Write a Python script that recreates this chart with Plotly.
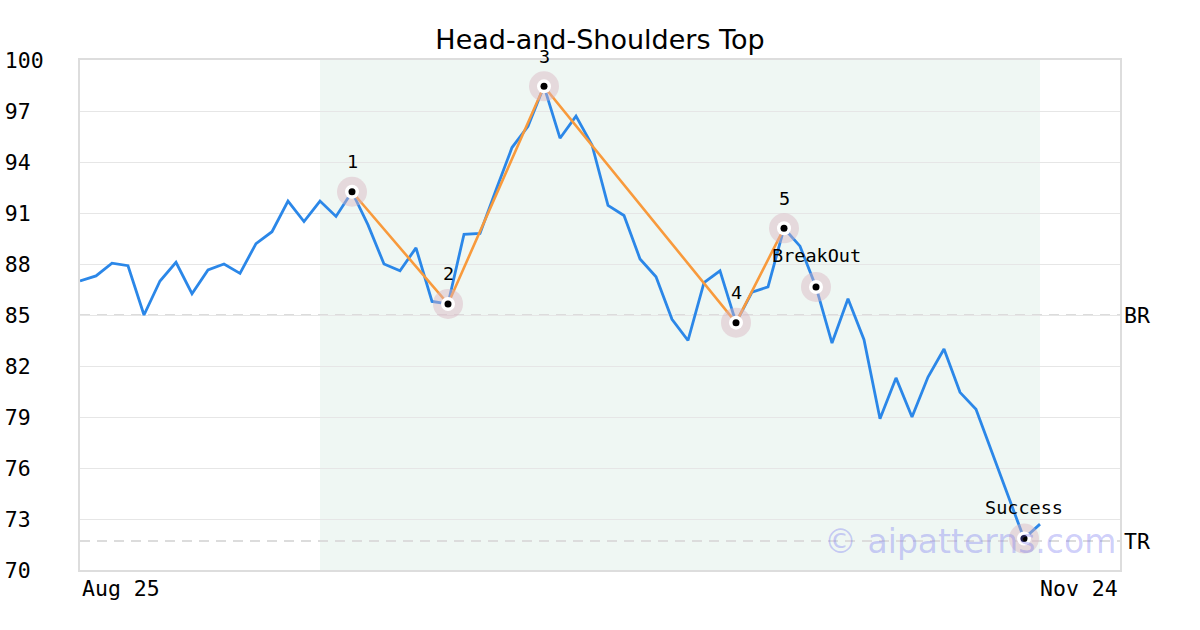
import plotly.graph_objects as go

# ---- data ----
prices = [87.0, 87.3, 88.05, 87.9, 85.0, 87.0, 88.1, 86.25, 87.65, 88.0,
          87.45, 89.2, 89.9, 91.7, 90.5, 91.7, 90.8, 92.25, 90.3, 88.0,
          87.6, 88.95, 85.8, 85.65, 89.75, 89.8, 92.35, 94.85, 96.1, 98.45,
          95.4, 96.7, 95.0, 91.45, 90.85, 88.3, 87.25, 84.75, 83.5, 86.9,
          87.6, 84.55, 86.35, 86.65, 90.1, 89.05, 86.65, 83.35, 85.95, 83.55,
          78.9, 81.3, 79.0, 81.35, 83.0, 80.45, 79.45, 76.9, 74.35, 71.85, 72.7]
days = list(range(len(prices)))

pattern_idx = [17, 23, 29, 41, 44]
pattern_labels = ["1", "2", "3", "4", "5"]
event_idx = [46, 59]
event_labels = ["BreakOut", "Success"]

shade_start, shade_end = 15, 60
br_level = 85.0
tr_level = 71.7

x_range = [0, 65]
x_tick_pos = [0, 65]
x_tick_labels = ["Aug 25", "Nov 24"]
y_ticks = [70, 73, 76, 79, 82, 85, 88, 91, 94, 97, 100]

MONO = "DejaVu Sans Mono"
SANS = "DejaVu Sans"

fig = go.Figure()

# price line
fig.add_trace(go.Scatter(x=days, y=prices, mode="lines",
                         line=dict(color="#2b87e8", width=2.8),
                         hoverinfo="skip", showlegend=False))
# pattern line
px_ = [days[i] for i in pattern_idx]
py_ = [prices[i] for i in pattern_idx]
fig.add_trace(go.Scatter(x=px_, y=py_, mode="lines",
                         line=dict(color="#f89a3c", width=2.6),
                         hoverinfo="skip", showlegend=False))

all_idx = pattern_idx + event_idx
mx = [days[i] for i in all_idx]
my = [prices[i] for i in all_idx]
# halo
fig.add_trace(go.Scatter(x=mx, y=my, mode="markers",
                         marker=dict(size=30, color="rgba(218,180,192,0.45)"),
                         hoverinfo="skip", showlegend=False))
fig.add_trace(go.Scatter(x=mx, y=my, mode="markers",
                         marker=dict(size=14, color="white"),
                         hoverinfo="skip", showlegend=False))
fig.add_trace(go.Scatter(x=mx, y=my, mode="markers",
                         marker=dict(size=7, color="black"),
                         hoverinfo="skip", showlegend=False))

# shaded region
fig.add_shape(type="rect", xref="x", yref="paper", x0=shade_start, x1=shade_end,
              y0=0, y1=1, fillcolor="#eff7f3", line=dict(width=0), layer="below")
# BR / TR lines
for lvl in (br_level, tr_level):
    fig.add_shape(type="line", xref="paper", yref="y", x0=0, x1=1, y0=lvl, y1=lvl,
                  line=dict(color="#dcdcdc", width=2, dash="10px,7px"), layer="below")

annotations = []
for i, lab in zip(pattern_idx, pattern_labels):
    annotations.append(dict(x=days[i], y=prices[i], text=lab, showarrow=False,
                            yshift=30, font=dict(family=MONO, size=18.5, color="black")))
for i, lab in zip(event_idx, event_labels):
    annotations.append(dict(x=days[i], y=prices[i], text=lab, showarrow=False,
                            yshift=31, font=dict(family=MONO, size=18.5, color="black")))
for lvl, lab in ((br_level, "BR"), (tr_level, "TR")):
    annotations.append(dict(xref="paper", x=1, y=lvl, text=lab, showarrow=False,
                            xanchor="left", xshift=2,
                            font=dict(family=MONO, size=21.5, color="black")))
for pos, lab, anc in zip(x_tick_pos, x_tick_labels, ["left", "right"]):
    annotations.append(dict(x=pos, yref="paper", y=0, text=lab, showarrow=False,
                            xanchor=anc, yanchor="middle", yshift=-18,
                            font=dict(family=MONO, size=21.5, color="black")))
annotations.append(dict(x=55.6, y=tr_level, text="© aipatterns.com", showarrow=False,
                        xanchor="center", yanchor="middle",
                        font=dict(family=SANS, size=33, color="rgba(105,105,240,0.33)")))

y_ticktext = [str(v) + "\u00a0" * (3 - len(str(v))) for v in y_ticks]

fig.update_layout(
    width=1200, height=630,
    margin=dict(l=80, r=80, t=60, b=60),
    paper_bgcolor="white", plot_bgcolor="white",
    title=dict(text="Head-and-Shoulders Top", x=0.5, xanchor="center",
               y=1 - 40 / 630, yanchor="middle",
               font=dict(family=SANS, size=27, color="black")),
    xaxis=dict(range=x_range, showgrid=False, zeroline=False, showticklabels=False,
               showline=True, mirror=True, linecolor="#dddddd", linewidth=2, ticks="",
               automargin=False),
    yaxis=dict(range=[70, 100], tickvals=y_ticks, ticktext=y_ticktext,
               tickfont=dict(family=MONO, size=21.5, color="black"),
               showgrid=True, gridcolor="#e6e6e6", gridwidth=1, zeroline=False,
               showline=True, mirror=True, linecolor="#dddddd", linewidth=2,
               ticks="", ticklabelstandoff=30, automargin=False),
    annotations=annotations,
    showlegend=False,
)

fig.write_html("out.html", config={"displayModeBar": False},
               post_script="document.body.style.margin='0';")
